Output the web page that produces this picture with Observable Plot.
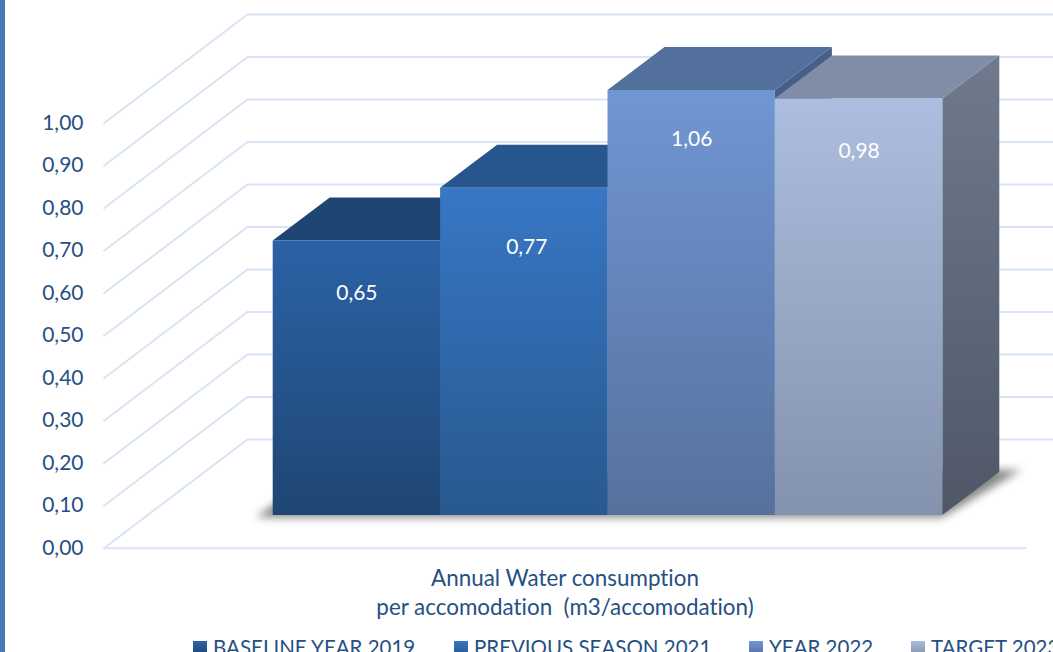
<!DOCTYPE html>
<html><head><meta charset="utf-8">
<script src="https://cdn.jsdelivr.net/npm/d3@7"></script>
<script src="https://cdn.jsdelivr.net/npm/@observablehq/plot@0.6"></script>
<style>
html,body{margin:0;padding:0;background:#fff;width:1053px;height:652px;overflow:hidden;font-family:Lato,"Noto Sans",sans-serif;color:#265083;font-variant-ligatures:none}
#strip{position:absolute;left:0;top:0;width:5px;height:652px;background:#4778b6}
#chart svg{display:block;position:absolute;left:0;top:0;overflow:hidden;font-variant-ligatures:none}
#caption{position:absolute;left:105px;width:920px;top:563px;text-align:center;font-size:22.4px;line-height:29px;white-space:pre}
#legend{position:absolute;top:635px;left:0;width:1053px;height:17px;overflow:hidden;font-size:20.5px}
#legend .item{position:absolute;top:0;white-space:nowrap;line-height:24px}
#legend i{display:inline-block;width:14px;height:14px;margin-right:6px;vertical-align:0}
</style></head><body>
<div id="chart"></div>
<div id="strip"></div>
<div id="caption"></div>
<div id="legend"></div>
<script>
// Data
const categories = ["BASELINE YEAR 2019", "PREVIOUS SEASON 2021", "YEAR 2022", "TARGET 2023"];
const values = [0.646, 0.77, 1.06, 0.98];
const axisTicks = [0, 0.1, 0.2, 0.3, 0.4, 0.5, 0.6, 0.7, 0.8, 0.9, 1];
const axisMax = 1; // the 1,06 bar is cut off at the top of the axis
const captionLines = ["Annual Water consumption", "per accomodation  (m3/accomodation)"];

// Colours: [front top, front bottom, top face, side top, side bottom]
const barColors = [
  ["#2b62a6", "#1f4673", "#1f4673", "#1b3f68", "#17375c"],
  ["#3777c4", "#28588f", "#27558e", "#234c7e", "#1e4069"],
  ["#7096d4", "#56719c", "#53709d", "#46608a", "#3d5375"],
  ["#acbddf", "#8393ad", "#808da6", "#6f7a8d", "#4f5767"]
];
const legendLeft = [193, 454, 749, 911];

// 3D layout, in scale units (x: one unit per bar, y: value)
const depthX = 0.3405, depthY = 0.1012;
const wall = {leftFront: -1.011, leftBack: -0.154, rightFront: 4.494, rightBack: 5.4, yFront: -0.077, yBack: 0.179};
const labelDrop = [0.124, 0.14, 0.115, 0.123];
const labelShift = [0, 0.015, 0, 0];

const fmt = d3.format(".2f");
const comma = v => fmt(v).replace(".", ",");
const bars = values.map((v, i) => ({name: categories[i], value: v, h: Math.min(v, axisMax), l: i, r: i + 1, i}));

const defs = () => {
  const d = d3.create("svg:defs");
  barColors.forEach((c, i) => {
    [["front", c[0], c[1]], ["side", c[3], c[4]]].forEach(([k, a, b]) => {
      const g = d.append("linearGradient").attr("id", `${k}${i}`).attr("x1", 0).attr("x2", 0).attr("y1", 0).attr("y2", 1);
      g.append("stop").attr("offset", 0).attr("stop-color", a);
      g.append("stop").attr("offset", 1).attr("stop-color", b);
    });
  });
  return d.node();
};

const gridMarks = axisTicks.map(v => Plot.line(
  v === 0
    ? [[wall.rightFront, v + wall.yFront], [wall.leftFront, v + wall.yFront], [wall.leftBack, v + wall.yBack], [wall.rightBack, v + wall.yBack]]
    : [[wall.leftFront, v + wall.yFront], [wall.leftBack, v + wall.yBack], [wall.rightBack, v + wall.yBack]],
  {x: d => d[0], y: d => d[1], stroke: "#d8e4f4", strokeWidth: 2}
));

const shadow = Plot.area(
  [{x1: -0.1, y1: -0.005, x2: 4.0, y2: -0.005}, {x1: 0.3, y1: 0.106, x2: 4.47, y2: 0.106}],
  {x1: "x1", y1: "y1", x2: "x2", y2: "y2", fill: "#444", fillOpacity: 0.65, imageFilter: "blur(4px)"}
);

const barMarks = bars.flatMap(b => [
  Plot.area(
    [{x1: b.l, y1: b.h, x2: b.r, y2: b.h}, {x1: b.l + depthX, y1: b.h + depthY, x2: b.r + depthX, y2: b.h + depthY}],
    {x1: "x1", y1: "y1", x2: "x2", y2: "y2", fill: barColors[b.i][2]}
  ),
  Plot.area(
    [{x1: b.r, y1: 0, x2: b.r, y2: b.h}, {x1: b.r + depthX, y1: depthY, x2: b.r + depthX, y2: b.h + depthY}],
    {x1: "x1", y1: "y1", x2: "x2", y2: "y2", fill: `url(#side${b.i})`}
  ),
  Plot.rect([b], {x1: "l", x2: "r", y1: 0, y2: "h", fill: `url(#front${b.i})`})
]);

const chart = Plot.plot({
  width: 1053, height: 564,
  marginLeft: 103, marginRight: 0, marginTop: 0, marginBottom: 0,
  style: {background: "transparent", fontFamily: "Lato, 'Noto Sans', sans-serif"},
  x: {domain: [0, 4], range: [272.7, 942.3], axis: null},
  y: {domain: [0, axisMax], range: [515, 90]},
  marks: [
    defs,
    ...gridMarks,
    shadow,
    ...barMarks,
    Plot.axisY({ticks: axisTicks, tickFormat: comma, tickSize: 0, tickPadding: 20, dy: 32.5, fill: "#265083", fontSize: 21, label: null}),
    Plot.text(bars, {
      x: d => d.i + 0.5 + labelShift[d.i], y: d => d.h - labelDrop[d.i],
      text: d => comma(d.value), fill: "#fff", fontSize: 21, textAnchor: "middle"
    })
  ]
});
document.getElementById("chart").append(chart);

document.getElementById("caption").textContent = captionLines.join("\n");
const legend = document.getElementById("legend");
categories.forEach((c, i) => {
  const it = document.createElement("div");
  it.className = "item";
  it.style.left = legendLeft[i] + "px";
  it.innerHTML = `<i style="background:linear-gradient(${barColors[i][0]},${barColors[i][1]})"></i>`;
  it.append(c);
  legend.append(it);
});
</script>
</body></html>
